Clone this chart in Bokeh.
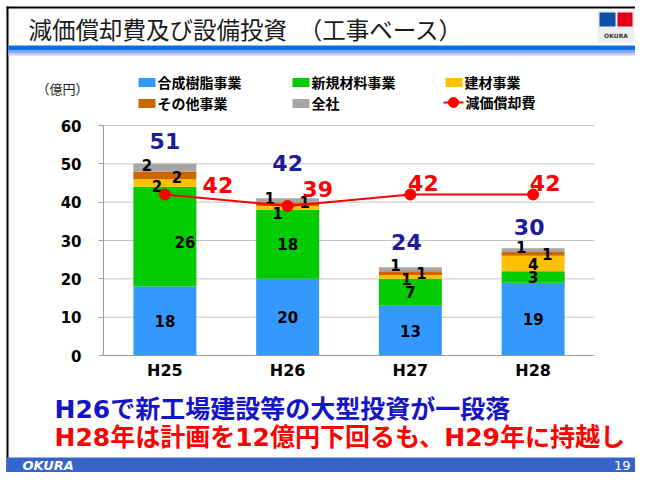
from bokeh.plotting import figure
from bokeh.models import ColumnDataSource, Range1d, FixedTicker, LinearAxis
from bokeh.core.properties import value
from bokeh.embed import file_html
from bokeh.resources import INLINE

# ---------------- data ----------------
categories = ["H25", "H26", "H27", "H28"]
resin = [18, 20, 13, 19]          # 合成樹脂事業
new_material = [26, 18, 7, 3]     # 新規材料事業
building = [2, 1, 1, 4]           # 建材事業
other = [2, 1, 1, 1]              # その他事業
corporate = [2, 1, 1, 1]          # 全社
totals = [51, 42, 24, 30]
depreciation = [42, 39, 42, 42]   # 減価償却費
y_ticks = [0, 10, 20, 30, 40, 50, 60]
series_names = ["合成樹脂事業", "新規材料事業", "建材事業", "その他事業", "全社"]
line_name = "減価償却費"
title_text = "減価償却費及び設備投資　（工事ベース）"
unit_text = "（億円）"
note1 = "H26で新工場建設等の大型投資が一段落"
note2 = "H28年は計画を12億円下回るも、H29年に持越し"
page_no = "19"
brand = "OKURA"

# ---------------- styles / layout ----------------
colors = ["#3399FF", "#00CC00", "#FFC000", "#CC6600", "#A6A6A6"]
RED = "#FF0000"
NAVY = "#1C1C9C"
LAT = "DejaVu Sans"
JP = "Noto Sans CJK JP"
MIX = "DejaVu Sans, Noto Sans CJK JP"
WID, HEI = 635, 472
PLOT_L, PLOT_R, PLOT_T, PLOT_B = 103, 594, 125, 355     # plot area in pixels
Y_MAX = 60

n = len(categories)
cat_px = (PLOT_R - PLOT_L) / n
px_per_unit = (PLOT_B - PLOT_T) / Y_MAX
x_lo = -PLOT_L / cat_px
x_hi = (WID - PLOT_L) / cat_px
y_lo = -(HEI - PLOT_B) / px_per_unit
y_hi = PLOT_B / px_per_unit

p = figure(width=WID, height=HEI, x_range=Range1d(x_lo, x_hi), y_range=Range1d(y_lo, y_hi),
           min_border=0, output_backend="svg", toolbar_location=None,
           x_axis_location=None, y_axis_location=None)
p.grid.visible = False
p.outline_line_color = None
p.background_fill_color = "white"
p.border_fill_color = "white"
p.extra_x_ranges = {"px": Range1d(0, WID)}
p.extra_y_ranges = {"px": Range1d(HEI, 0)}

xs = [i + 0.5 for i in range(n)]


def txt(x, y, text, size, color="black", font=JP, style="normal", align="left"):
    p.text(x=[x], y=[y], text=[text], text_font=value(font), text_font_size=size,
           text_font_style=style, text_color=color, text_align=align, text_baseline="middle",
           x_range_name="px", y_range_name="px")


def box(x0, y0, x1, y1, color):
    p.quad(left=[x0], right=[x1], top=[y0], bottom=[y1], color=color, line_color=None,
           x_range_name="px", y_range_name="px")


# ---------------- slide frame, title, legend ----------------
box(6, 6, WID, 8, "black")
box(6, 6, 8, HEI, "black")
txt(28, 28, title_text, "23.5px", color="#1A1A1A")
box(8, 45, WID, 49.5, "#0A6EEB")
box(8, 49.5, WID, 52.5, "#86AAF2")
box(8, 52.5, WID, 55, "#C8CAF5")
# logo
box(597, 10, 634, 42, "#EEEEEE")
box(599, 12, 615, 26, "#0B4FA8")
box(617, 12, 632, 26, "#E0001A")
txt(615.5, 35, brand, "6px", color="#333333", font=LAT, style="bold", align="center")
# unit + legend
txt(36, 88, unit_text, "13px", color="#222222")
leg = [(138, 82, 0), (292, 82, 1), (445, 82, 2), (138, 103, 3), (292, 103, 4)]
for x0, yc, i in leg:
    box(x0, yc - 4.5, x0 + 17, yc + 4.5, colors[i])
    txt(x0 + 19, yc - 1, series_names[i], "14px", style="bold")
p.line([443, 463], [102, 102], line_color=RED, line_width=2, x_range_name="px", y_range_name="px")
p.scatter([453], [102], size=10, color=RED, x_range_name="px", y_range_name="px")
txt(465, 101, line_name, "14px", style="bold")

# ---------------- chart ----------------
# grid lines
p.segment(x0=[0] * len(y_ticks), x1=[n] * len(y_ticks), y0=y_ticks, y1=y_ticks,
          line_color="#C4C4C4", line_width=1)

series = [resin, new_material, building, other, corporate]
keys = ["s0", "s1", "s2", "s3", "s4"]
data = {"x": xs}
for k, s in zip(keys, series):
    data[k] = s
src = ColumnDataSource(data)
p.vbar_stack(keys, x="x", width=0.513, color=colors, line_color=None, source=src)

# segment labels
seg_dx = [[0, 0, 0, 0], [20, 0, 0, 0], [-8, -10, -4, 0], [12, 17, 11, 14], [-18, -18, -15, -12]]
seg_dy = [[0, 0, 0, 0], [5, 0, 0, 0], [3, 5, 2, 0], [2, -2, 0, 0], [-3, -2, -4, -3]]
lx, ly, lt, ldx, ldy = [], [], [], [], []
base = [0] * n
for si, s in enumerate(series):
    for ci, v in enumerate(s):
        lx.append(xs[ci])
        ly.append(base[ci] + v / 2)
        lt.append(str(v))
        ldx.append(seg_dx[si][ci])
        ldy.append(seg_dy[si][ci])
        base[ci] += v
p.text(x=lx, y=ly, text=lt, x_offset=ldx, y_offset=ldy, text_align="center",
       text_baseline="middle", text_font=value(LAT), text_font_style="bold",
       text_font_size="15px", text_color="black")

# total labels
tot_dx = [0, 0, -4, -4]
tot_dy = [-23, -35, -25, -21]
p.text(x=xs, y=base, text=[str(t) for t in totals], x_offset=tot_dx, y_offset=tot_dy,
       text_align="center", text_baseline="middle", text_font=value(LAT),
       text_font_style="bold", text_font_size="22px", text_color=NAVY)

# depreciation line
p.line(xs, depreciation, line_color=RED, line_width=2)
p.scatter(xs, depreciation, size=11, color=RED)
dep_dx = [53, 30, 13, 12]
dep_dy = [-10, -17, -12, -12]
p.text(x=xs, y=depreciation, text=[str(d) for d in depreciation], x_offset=dep_dx,
       y_offset=dep_dy, text_align="center", text_baseline="middle", text_font=value(LAT),
       text_font_style="bold", text_font_size="22px", text_color=RED)

# axes (drawn at the plot-area edges)
yax = LinearAxis(fixed_location=0, bounds=(0, Y_MAX), ticker=FixedTicker(ticks=y_ticks))
yax.axis_line_color = "#9A9A9A"
yax.major_tick_line_color = "#9A9A9A"
yax.major_tick_out = 5
yax.major_tick_in = 0
yax.minor_tick_line_color = None
yax.major_label_text_font = LAT
yax.major_label_text_font_style = "bold"
yax.major_label_text_font_size = "15px"
yax.major_label_text_color = "black"
yax.major_label_standoff = 17
p.add_layout(yax, "left")

xax = LinearAxis(fixed_location=0, bounds=(0, n), ticker=FixedTicker(ticks=xs))
xax.major_label_overrides = {x: c for x, c in zip(xs, categories)}
xax.axis_line_color = "#9A9A9A"
xax.major_tick_line_color = None
xax.minor_tick_line_color = None
xax.major_label_text_font = LAT
xax.major_label_text_font_style = "bold"
xax.major_label_text_font_size = "16px"
xax.major_label_text_color = "black"
xax.major_label_standoff = -1
p.add_layout(xax, "below")

# ---------------- notes + footer ----------------
txt(54, 409, note1, "25px", color="#1414C8", font=MIX, style="bold")
txt(54, 437, note2, "25px", color=RED, font=MIX, style="bold")
box(6, 457, WID, HEI, "#3565C8")
txt(22, 465, brand, "13px", color="white", font=LAT, style="bold italic")
txt(630, 465, page_no, "13px", color="white", font=LAT, align="right")

open("out.html", "w").write(file_html(p, INLINE))
